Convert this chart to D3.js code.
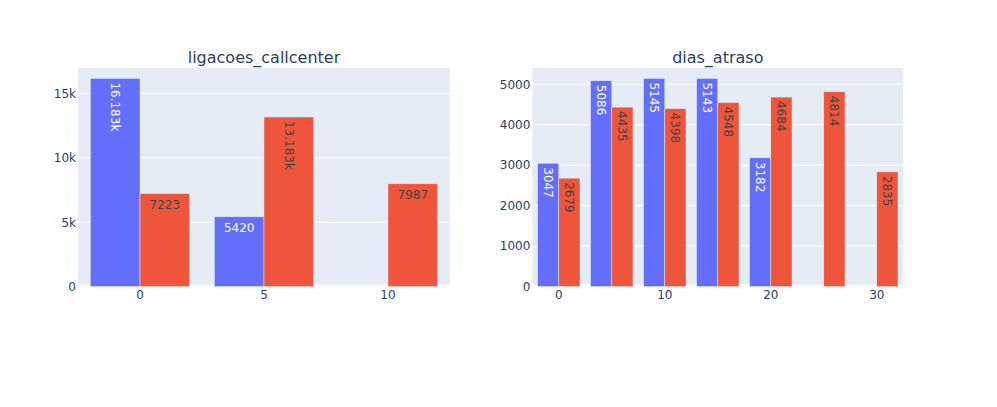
<!DOCTYPE html>
<meta charset="utf-8">
<style>
  body { margin: 0; background: #fff; }
  text { font-family: "DejaVu Sans", Verdana, sans-serif; }
</style>
<svg width="997" height="407"></svg>
<script src="https://d3js.org/d3.v7.min.js"></script>
<script>

    // ligacoes_callcenter histogram, bins of 5 centred on these values
    var callBins = [0, 5, 10];
    var callBlue = [16183, 5420, 0];
    var callRed = [7223, 13183, 7987];
    var callXTicks = [0, 5, 10];
    var callYTicks = [0, 5000, 10000, 15000];

    // dias_atraso histogram
    var atrasoBins = [0, 5, 10, 15, 20, 25, 30];
    var atrasoBlue = [3047, 5086, 5145, 5143, 3182, 0, 0];
    var atrasoRed = [2679, 4435, 4398, 4548, 4684, 4814, 2835];
    var atrasoXTicks = [0, 10, 20, 30];
    var atrasoYTicks = [0, 1000, 2000, 3000, 4000, 5000];

    var blue = "#636efa", red = "#EF553B", bg = "#E5ECF6", ink = "#2a3f5f";
    var binSize = 5, bargap = 0.2, pad = 3;

    var svg = d3.select("svg");

    function label(v) {
        return v >= 10000 ? (v / 1000) + "k" : String(v);
    }

    function panel(opts) {
        var x = d3.scaleLinear()
            .domain([opts.bins[0] - binSize / 2, opts.bins[opts.bins.length - 1] + binSize / 2])
            .range([opts.x0, opts.x1]);
        var ymax = d3.max(opts.blue.concat(opts.red)) * 1.05;
        var y = d3.scaleLinear().domain([0, ymax]).range([286.5, 68]);

        var g = svg.append("g");

        g.append("rect")
            .attr("x", opts.x0).attr("y", 68)
            .attr("width", opts.x1 - opts.x0).attr("height", 286.5 - 68)
            .attr("fill", bg);

        // horizontal grid + zero line
        g.selectAll(".ygrid").data(opts.yTicks.slice(1)).enter().append("line")
            .attr("x1", opts.x0).attr("x2", opts.x1)
            .attr("y1", function(d) { return y(d); })
            .attr("y2", function(d) { return y(d); })
            .attr("stroke", "#fff").attr("stroke-width", 1);
        g.append("line")
            .attr("x1", opts.x0).attr("x2", opts.x1)
            .attr("y1", y(0) - 1).attr("y2", y(0) - 1)
            .attr("stroke", "#fff").attr("stroke-width", 2);

        var groupW = binSize * (1 - bargap);
        var series = [
            {values: opts.blue, color: blue, text: "#fff", off: -groupW / 2},
            {values: opts.red, color: red, text: "#444", off: 0}
        ];

        series.forEach(function(s) {
            var items = opts.bins.map(function(b, i) { return {bin: b, v: s.values[i]}; });
            g.selectAll(null).data(items).enter().append("rect")
                .attr("x", function(d) { return x(d.bin + s.off); })
                .attr("width", function(d) { return x(d.bin + s.off + groupW / 2) - x(d.bin + s.off); })
                .attr("y", function(d) { return y(d.v); })
                .attr("height", function(d) { return y(0) - y(d.v); })
                .attr("fill", s.color)
                .attr("stroke", bg).attr("stroke-width", 0.5);

            // inside labels, rotated when they don't fit the bar width
            items.filter(function(d) { return d.v > 0; }).forEach(function(d) {
                var bx0 = x(d.bin + s.off), bx1 = x(d.bin + s.off + groupW / 2);
                var cx = (bx0 + bx1) / 2, top = y(d.v);
                var t = g.append("text")
                    .attr("fill", s.text)
                    .style("font-size", "12px")
                    .text(label(d.v));
                var w = t.node().getComputedTextLength();
                if (w + 2 * pad > bx1 - bx0) {
                    t.attr("text-anchor", "start")
                        .attr("dy", "0.35em")
                        .attr("transform", "translate(" + cx + "," + (top + pad + 1) + ") rotate(90)");
                } else {
                    t.attr("text-anchor", "middle")
                        .attr("x", cx).attr("y", top + 15.5);
                }
            });
        });

        // tick labels
        g.selectAll(".yt").data(opts.yTicks).enter().append("text")
            .attr("x", opts.x0 - 2)
            .attr("y", function(d) { return y(d); })
            .attr("dy", "0.36em")
            .attr("text-anchor", "end")
            .attr("fill", ink)
            .style("font-size", "12px")
            .text(opts.yFormat);
        g.selectAll(".xt").data(opts.xTicks).enter().append("text")
            .attr("x", function(d) { return x(d); })
            .attr("y", 299.3)
            .attr("text-anchor", "middle")
            .attr("fill", ink)
            .style("font-size", "12px")
            .text(function(d) { return d; });

        g.append("text")
            .attr("x", (opts.x0 + opts.x1) / 2)
            .attr("y", 63)
            .attr("text-anchor", "middle")
            .attr("fill", ink)
            .style("font-size", "16px")
            .text(opts.title);
    }

    panel({
        title: "ligacoes_callcenter",
        bins: callBins, blue: callBlue, red: callRed,
        xTicks: callXTicks, yTicks: callYTicks,
        yFormat: function(d) { return d === 0 ? "0" : (d / 1000) + "k"; },
        x0: 78, x1: 450
    });

    panel({
        title: "dias_atraso",
        bins: atrasoBins, blue: atrasoBlue, red: atrasoRed,
        xTicks: atrasoXTicks, yTicks: atrasoYTicks,
        yFormat: function(d) { return String(d); },
        x0: 532.3, x1: 903.3
    });
</script>
